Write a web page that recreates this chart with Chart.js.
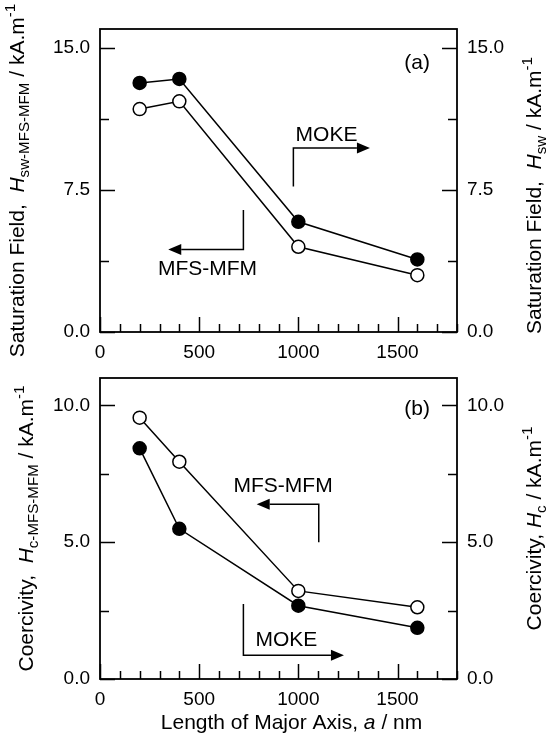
<!DOCTYPE html>
<html><head><meta charset="utf-8">
<script src="https://cdn.jsdelivr.net/npm/chart.js@4.4.0/dist/chart.umd.min.js"></script>
<style>
html,body{margin:0;padding:0;background:#fff;}
#wrap{position:relative;width:548px;height:741px;overflow:hidden;}
canvas{position:absolute;left:0;}
</style></head><body>
<div id="wrap">
<canvas id="top" width="548" height="370" style="top:0"></canvas>
<canvas id="bot" width="548" height="371" style="top:370px"></canvas>
</div>
<script>
// ---- data ----
const lengths = [200, 400, 1000, 1600];
const hswFilled = [13.15, 13.36, 5.82, 3.83];
const hswOpen = [11.77, 12.18, 4.50, 3.00];
const hcFilled = [8.43, 5.49, 2.68, 1.87];
const hcOpen = [9.55, 7.94, 3.22, 2.62];
const xTickLabels = [0, 500, 1000, 1500];
const yTicksA = [0, 7.5, 15];
const yMinorA = [3.75, 11.25];
const yTicksB = [0, 5, 10];
const yMinorB = [2.5, 7.5];

const FONT = '"Liberation Sans", Arial, Helvetica, sans-serif';
const TICK_SIZE = 19;
const TITLE_SIZE = 21;

function drawRich(ctx, segs, x, y, rot, size, align) {
  ctx.save();
  ctx.translate(x, y);
  if (rot) ctx.rotate(rot);
  const items = segs.map(s => {
    const small = s.sub || s.sup;
    const it = Object.assign({}, s, {size: small ? size * 0.72 : size});
    ctx.font = (it.italic ? 'italic ' : '') + it.size + 'px ' + FONT;
    it.w = ctx.measureText(it.t).width;
    return it;
  });
  const total = items.reduce((a, b) => a + b.w, 0);
  let cx = align === 'center' ? -total / 2 : (align === 'right' ? -total : 0);
  ctx.fillStyle = '#000';
  ctx.textBaseline = 'alphabetic';
  ctx.textAlign = 'left';
  items.forEach(it => {
    ctx.font = (it.italic ? 'italic ' : '') + it.size + 'px ' + FONT;
    const dy = it.sub ? size * 0.24 : (it.sup ? -size * 0.45 : 0);
    ctx.fillText(it.t, cx, dy);
    cx += it.w;
  });
  ctx.restore();
}

const frameTicks = {
  id: 'frameTicks',
  beforeDatasetsDraw(chart, args, o) {
    const {ctx, chartArea: a, scales} = chart;
    ctx.save();
    ctx.strokeStyle = '#000';
    ctx.lineWidth = 1.5;
    ctx.lineCap = 'butt';
    ctx.beginPath();
    const xs = scales.x;
    for (let v = 0; v <= xs.max; v += 100) {
      const p = Math.round(xs.getPixelForValue(v)) + 0.5;
      const len = (v % 500 === 0) ? 15 : 8;
      ctx.moveTo(p, a.bottom); ctx.lineTo(p, a.bottom - len);
    }
    const ys = scales.y;
    o.major.forEach(v => {
      const p = Math.round(ys.getPixelForValue(v)) + 0.5;
      ctx.moveTo(a.left, p); ctx.lineTo(a.left + 15, p);
      ctx.moveTo(a.right, p); ctx.lineTo(a.right - 15, p);
    });
    o.minor.forEach(v => {
      const p = Math.round(ys.getPixelForValue(v)) + 0.5;
      ctx.moveTo(a.left, p); ctx.lineTo(a.left + 9, p);
      ctx.moveTo(a.right, p); ctx.lineTo(a.right - 9, p);
    });
    ctx.stroke();
    ctx.lineWidth = 1.8;
    ctx.strokeRect(a.left, a.top, a.right - a.left, a.bottom - a.top);
    ctx.restore();
  },
  afterDatasetsDraw(chart, args, o) {
    const {ctx, chartArea: a, scales} = chart;
    const xs = scales.x, ys = scales.y;
    ctx.save();
    ctx.strokeStyle = '#000';
    ctx.fillStyle = '#000';
    ctx.lineWidth = 1.5;
    (o.arrows || []).forEach(path => {
      const pts = path.map(p => [xs.getPixelForValue(p[0]), ys.getPixelForValue(p[1])]);
      const n = pts.length;
      const [x1, y1] = pts[n - 2], [x2, y2] = pts[n - 1];
      const ang = Math.atan2(y2 - y1, x2 - x1);
      const hl = 13, hw = 5.5;
      const bx = x2 - hl * Math.cos(ang), by = y2 - hl * Math.sin(ang);
      ctx.beginPath();
      ctx.moveTo(pts[0][0], pts[0][1]);
      for (let i = 1; i < n - 1; i++) ctx.lineTo(pts[i][0], pts[i][1]);
      ctx.lineTo(bx, by);
      ctx.stroke();
      ctx.beginPath();
      ctx.moveTo(x2, y2);
      ctx.lineTo(bx - hw * Math.sin(ang), by + hw * Math.cos(ang));
      ctx.lineTo(bx + hw * Math.sin(ang), by - hw * Math.cos(ang));
      ctx.closePath();
      ctx.fill();
    });
    (o.labels || []).forEach(l => {
      ctx.font = TITLE_SIZE + 'px ' + FONT;
      ctx.textAlign = l.align || 'center';
      ctx.textBaseline = 'middle';
      ctx.fillText(l.t, xs.getPixelForValue(l.x), ys.getPixelForValue(l.y));
    });
    // axis titles
    const cy = (a.top + a.bottom) / 2;
    if (o.leftTitle) drawRich(ctx, o.leftTitle, o.leftX, cy + (o.leftDy || 0), -Math.PI / 2, TITLE_SIZE, 'center');
    if (o.rightTitle) drawRich(ctx, o.rightTitle, o.rightX, cy + (o.rightDy || 0), -Math.PI / 2, o.rightSize || TITLE_SIZE, 'center');
    if (o.xTitle) drawRich(ctx, o.xTitle, (a.left + a.right) / 2 + (o.xTitleDx || 0), o.xTitleY, 0, TITLE_SIZE, 'center');
    ctx.restore();
  }
};

function noPad(s) { s.paddingTop = 0; s.paddingBottom = 0; s.paddingLeft = 0; s.paddingRight = 0; }

function yAxis(pos, ymax, ticks, width) {
  return {
    type: 'linear', position: pos, min: 0, max: ymax,
    grid: {display: false, drawTicks: false}, border: {display: false},
    afterBuildTicks: s => { s.ticks = ticks.map(v => ({value: v})); },
    afterFit: s => { s.width = width; noPad(s); },
    ticks: {color: '#000', font: {family: FONT, size: TICK_SIZE}, padding: 10,
            callback: v => Number(v).toFixed(1)}
  };
}

function makeChart(id, filled, open, ymax, ticks, opts) {
  const ds = (vals, fill) => ({
    data: lengths.map((x, i) => ({x: x, y: vals[i]})),
    borderColor: '#000', borderWidth: 1.5, tension: 0,
    pointRadius: 6.5, pointBorderWidth: 1.5, pointBorderColor: '#000',
    pointBackgroundColor: fill, fill: false
  });
  return new Chart(document.getElementById(id), {
    type: 'line',
    data: {datasets: [ds(open, '#fff'), ds(filled, '#000')]},
    options: {
      responsive: false, animation: false, devicePixelRatio: 1,
      layout: {padding: {top: opts.padTop, left: 0, right: 0, bottom: 0}},
      plugins: {legend: {display: false}, tooltip: {enabled: false}, frameTicks: opts.frame},
      scales: {
        x: {
          type: 'linear', min: 0, max: 1800,
          grid: {display: false, drawTicks: false}, border: {display: false},
          afterBuildTicks: s => { s.ticks = xTickLabels.map(v => ({value: v})); },
          afterFit: s => { s.height = opts.xHeight; noPad(s); },
          ticks: {color: '#000', font: {family: FONT, size: TICK_SIZE}, padding: 9, maxRotation: 0, autoSkip: false,
                  callback: v => String(v)}
        },
        y: yAxis('left', ymax, ticks, 100),
        y2: yAxis('right', ymax, ticks, 91)
      }
    },
    plugins: [frameTicks]
  });
}

makeChart('top', hswFilled, hswOpen, 16, yTicksA, {
  padTop: 29, xHeight: 38,
  frame: {
    major: yTicksA, minor: yMinorA,
    arrows: [[[975, 7.68], [975, 9.71], [1361, 9.71]], [[723, 6.44], [723, 4.36], [344, 4.36]]],
    labels: [{t: '(a)', x: 1664, y: 14.2, align: 'right'}, {t: 'MOKE', x: 1142, y: 10.41}, {t: 'MFS-MFM', x: 542, y: 3.32}],
    leftTitle: [{t: 'Saturation Field,  '}, {t: 'H', italic: true}, {t: 'sw-MFS-MFM', sub: true}, {t: ' / kA.m'}, {t: '-1', sup: true}],
    leftX: 24,
    rightTitle: [{t: 'Saturation Field,  '}, {t: 'H', italic: true}, {t: 'sw', sub: true}, {t: ' / kA.m'}, {t: '-1', sup: true}],
    rightX: 541, rightDy: 15
  }
});

makeChart('bot', hcFilled, hcOpen, 11, yTicksB, {
  padTop: 6, xHeight: 62,
  frame: {
    major: yTicksB, minor: yMinorB,
    arrows: [[[1103, 5.0], [1103, 6.39], [790, 6.39]], [[723, 2.74], [723, 0.87], [1230, 0.87]]],
    labels: [{t: '(b)', x: 1664, y: 9.86, align: 'right'}, {t: 'MFS-MFM', x: 923, y: 7.03}, {t: 'MOKE', x: 940, y: 1.41}],
    leftTitle: [{t: 'Coercivity,  '}, {t: 'H', italic: true}, {t: 'c-MFS-MFM', sub: true}, {t: ' / kA.m'}, {t: '-1', sup: true}],
    leftX: 33,
    rightTitle: [{t: 'Coercivity, '}, {t: 'H', italic: true}, {t: 'c', sub: true}, {t: ' / kA.m'}, {t: '-1', sup: true}],
    rightX: 541, rightDy: 0,
    xTitle: [{t: 'Length of Major Axis, '}, {t: 'a', italic: true}, {t: ' / nm'}],
    xTitleY: 359, xTitleDx: 13
  }
});
</script>
</body></html>
